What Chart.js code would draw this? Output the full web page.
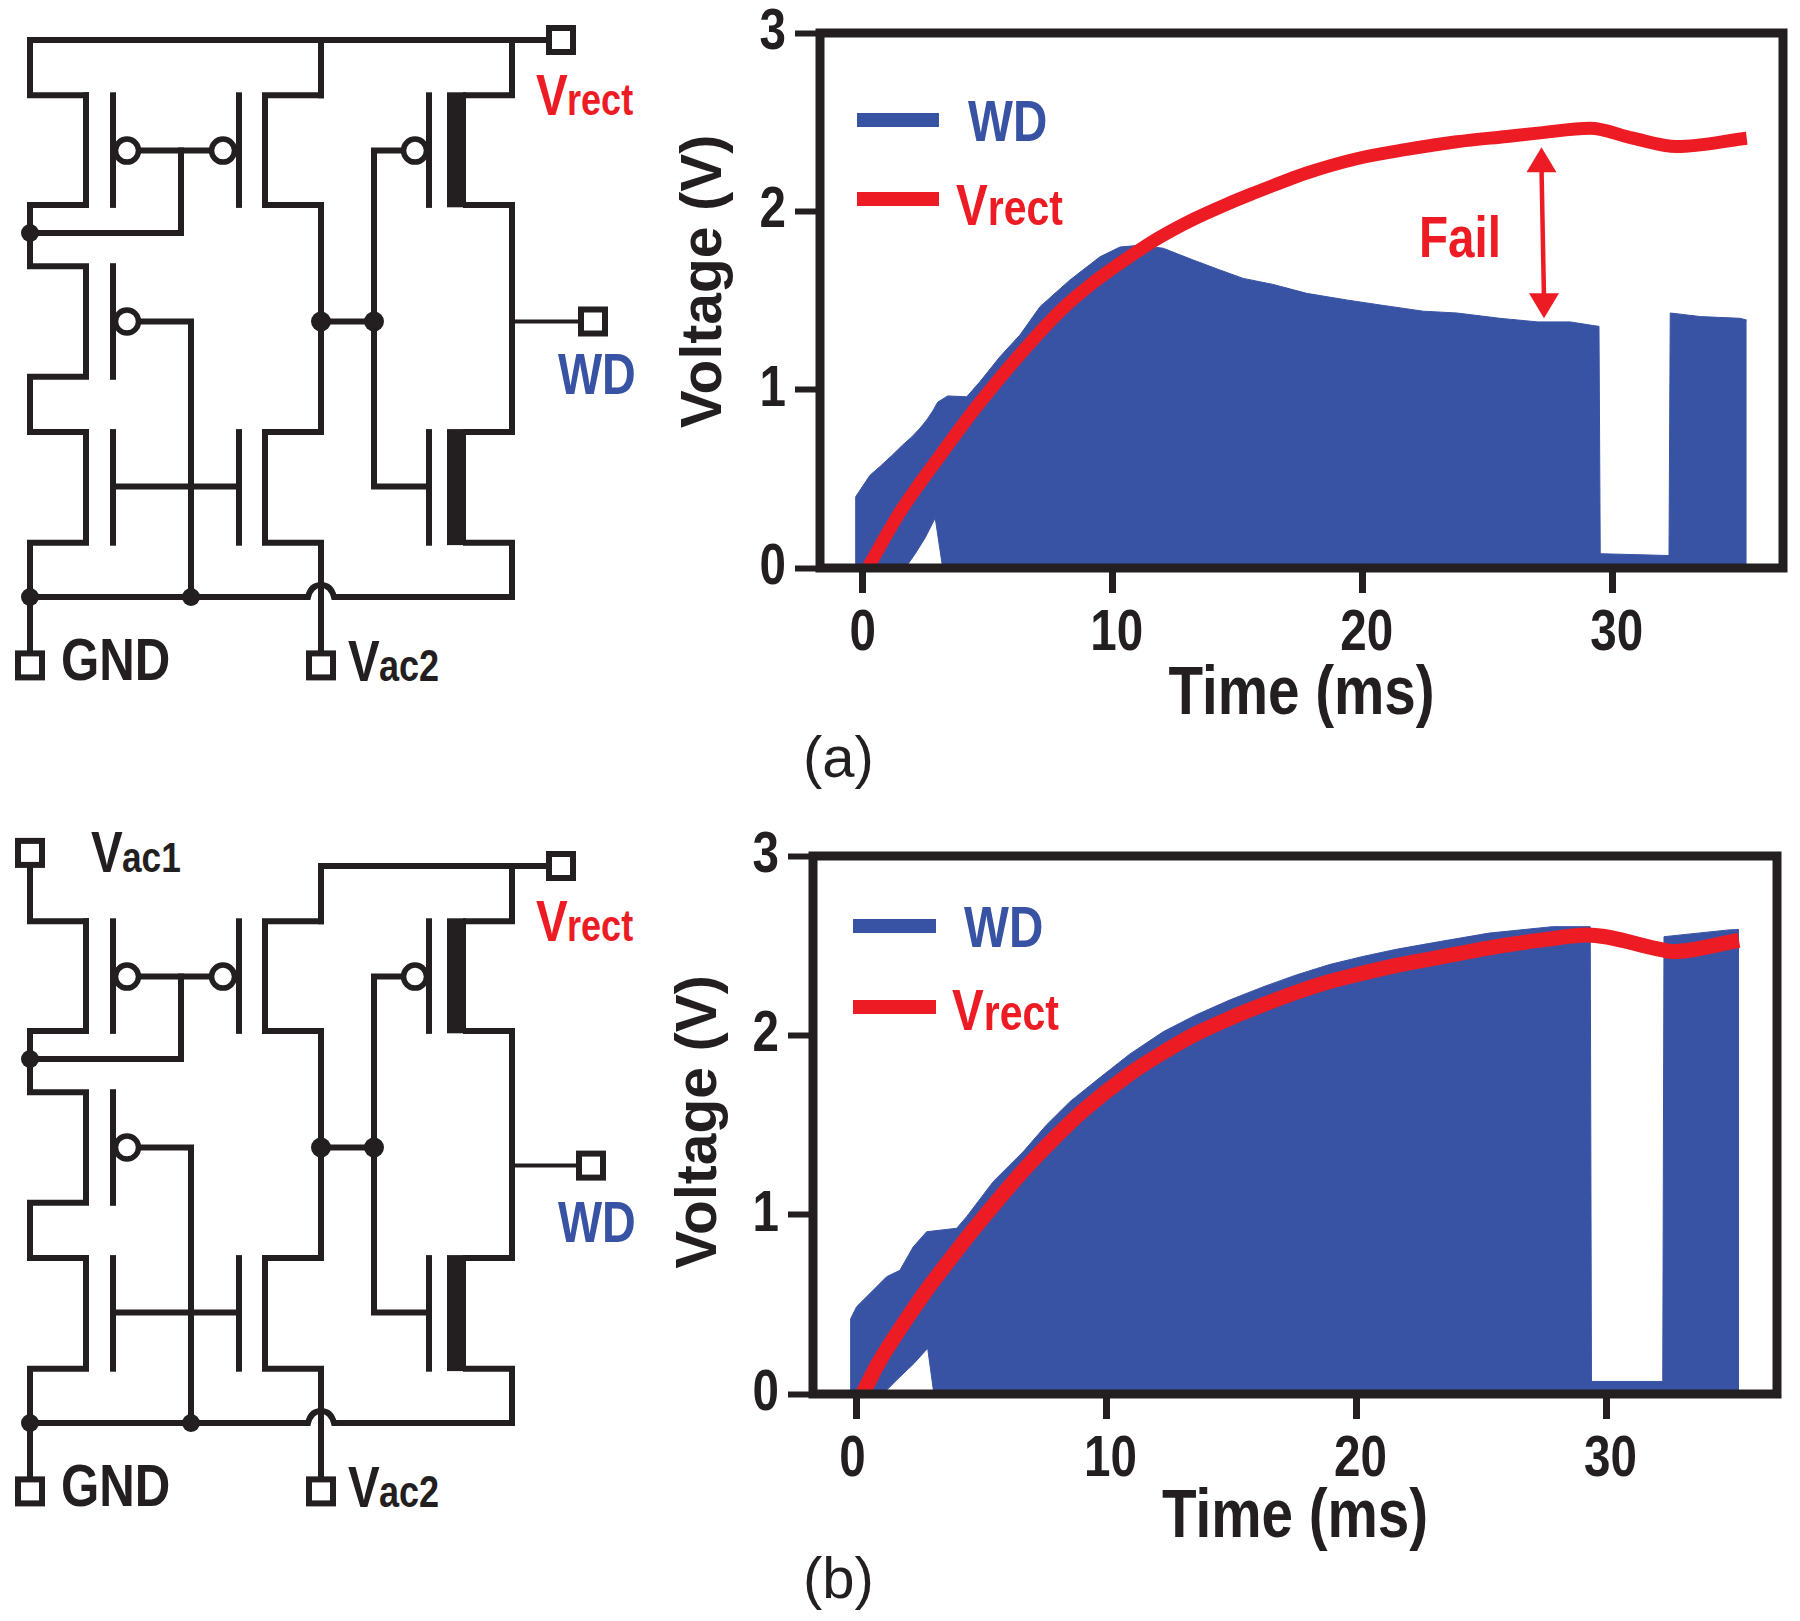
<!DOCTYPE html>
<html><head><meta charset="utf-8">
<script src="https://cdn.jsdelivr.net/npm/chart.js@4/dist/chart.umd.min.js"></script>
<style>
html,body{margin:0;padding:0;background:#fff;width:1800px;height:1621px;overflow:hidden}
canvas,svg{position:absolute}
#wa{position:absolute;left:660px;top:-30px;width:1140px;height:820px}
#wb{position:absolute;left:660px;top:790px;width:1140px;height:831px}
</style></head><body>
<svg id="sch" width="1800" height="1621" style="left:0;top:0"></svg>
<div id="wa"><canvas id="ca"></canvas></div>
<div id="wb"><canvas id="cb"></canvas></div>
<script>
const xTickValues=[0,10,20,30];
const yTickValues=[0,1,2,3];
const seriesNames=['WD','Vrect'];
// panel (a)
const wdTimeA=[-0.3,-0.28,0.29,0.7,1.16,1.6,1.96,2.3,2.56,2.8,3.0,3.4,4.16,4.69,5.49,6.29,7.09,8.29,9.49,10.29,11.09,12.02,13.22,14.29,15.22,16.42,17.76,19.36,20.69,22.42,23.76,25.49,27,28.3,29.2,29.45,29.5,32.25,32.3,33.5,35.1,35.36];
const wdUpperA=[0,0.40,0.52,0.57,0.63,0.69,0.735,0.785,0.83,0.88,0.93,0.965,0.96,1.045,1.185,1.307,1.465,1.615,1.745,1.80,1.81,1.793,1.727,1.671,1.624,1.59,1.54,1.503,1.475,1.44,1.43,1.40,1.38,1.38,1.36,1.355,0.08,0.07,1.43,1.41,1.40,1.39];
const wdLowTimeA=[-0.3,1.7,2.1,2.5,2.9,3.2,35.36];
const wdLowerA=[0,0,0.08,0.17,0.28,0,0];
const vrectTimeA=[0.2,1.5,3.2,4.42,5.22,6.56,7.89,9.22,10.56,11.89,13.22,14.56,15.6,16.42,17.76,19.76,21.76,23.76,25.76,27.09,29.09,30.8,32.56,35.36];
const vrectA=[0,0.315,0.65,0.88,1.02,1.24,1.44,1.60,1.735,1.855,1.955,2.04,2.10,2.145,2.215,2.295,2.347,2.39,2.42,2.44,2.466,2.41,2.363,2.41];
const failArrowTime=[27.15,27.25];
const failArrowVolt=[2.36,1.40];
// panel (b)
const wdTimeB=[-0.25,-0.23,0.01,0.68,1.21,1.74,2.27,2.81,4.01,4.41,5.47,6.67,7.6,8.54,9.7,10.93,12.27,13.6,14.93,16.26,17.6,18.93,20.26,21.6,22.93,25.3,27.84,29.35,29.4,32.25,32.3,34.9,35.3];
const wdUpperB=[0,0.42,0.487,0.58,0.654,0.69,0.82,0.905,0.924,0.989,1.184,1.351,1.50,1.63,1.76,1.895,2.02,2.115,2.197,2.27,2.337,2.395,2.44,2.48,2.513,2.57,2.606,2.606,0.07,0.07,2.55,2.588,2.59];
const wdLowTimeB=[-0.25,1.05,1.7,2.3,2.85,3.1,35.3];
const wdLowerB=[0,0,0.09,0.17,0.255,0,0];
const vrectTimeB=[0.25,0.87,2.07,2.81,3.74,4.67,5.74,6.8,7.87,9.07,10.93,12.27,13.6,14.93,16.26,17.6,18.93,20.26,21.6,22.93,25.6,27.6,29.2,32.25,32.65,35.3];
const vrectB=[0,0.17,0.431,0.58,0.75,0.915,1.095,1.265,1.42,1.58,1.785,1.905,2.01,2.095,2.17,2.24,2.30,2.347,2.39,2.425,2.495,2.535,2.56,2.476,2.467,2.53];

const INK='#231f20',BLUE='#3953a4',RED='#ed1c24';
const SANS='"Liberation Sans",Arial,sans-serif';
const CONDENSE=0.82;
const zip=(xs,ys)=>xs.map((x,i)=>({x,y:ys[i]}));

const panelPlugin={
  id:'panel',
  beforeDraw(c){
    const s=c.scales.y,k=c.options.plugins.panel.titleShift;
    if(!s._patched){
      s._patched=true;
      const d=s.drawTitle;
      s.drawTitle=function(){const b=this.bottom;this.bottom-=k*2;d.call(this);this.bottom=b;};
    }
  },
  afterDatasetsDraw(c){
    const o=c.options.plugins.panel,a=c.chartArea,g=c.ctx;
    g.save();
    g.lineJoin='miter';g.strokeStyle=INK;g.lineWidth=9;
    g.strokeRect(a.left,a.top,a.right-a.left,a.bottom-a.top);
    const L=o.legend;
    g.lineCap='butt';
    g.lineWidth=14;g.strokeStyle=BLUE;g.beginPath();g.moveTo(L.x0,L.y1);g.lineTo(L.x1,L.y1);g.stroke();
    g.strokeStyle=RED;g.beginPath();g.moveTo(L.x0,L.y2);g.lineTo(L.x1,L.y2);g.stroke();
    g.textBaseline='alphabetic';g.textAlign='left';
    g.fillStyle=BLUE;g.font='bold 58px '+SANS;g.fillText(seriesNames[0],L.tx1,L.b1);
    g.fillStyle=RED;g.font='bold 58px '+SANS;g.fillText('V',L.tx2,L.b2);
    const w=g.measureText('V').width*CONDENSE;
    g.font='bold 50px '+SANS;g.fillText('rect',L.tx2+w,L.b2);
    if(o.fail){
      const X=c.scales.x,Y=c.scales.y;
      const x1=X.getPixelForValue(failArrowTime[0]),y1=Y.getPixelForValue(failArrowVolt[0]);
      const x2=X.getPixelForValue(failArrowTime[1]),y2=Y.getPixelForValue(failArrowVolt[1]);
      g.strokeStyle=RED;g.fillStyle=RED;g.lineWidth=4.5;
      g.beginPath();g.moveTo(x1,y1+20);g.lineTo(x2,y2-20);g.stroke();
      g.beginPath();g.moveTo(x1,y1);g.lineTo(x1+15,y1+25);g.lineTo(x1-15,y1+25);g.closePath();g.fill();
      g.beginPath();g.moveTo(x2,y2);g.lineTo(x2+15,y2-25);g.lineTo(x2-15,y2-25);g.closePath();g.fill();
      g.font='bold 58px '+SANS;g.fillText('Fail',o.fail.x,o.fail.y);
    }
    g.restore();
  }
};

function condenseText(ctx,zeroShift){
  const orig=ctx.fillText.bind(ctx);
  ctx.fillText=function(t,x,y,m){
    if(t==='Voltage (V)'){orig(t,x,y);return;}
    const dx=(t==='0'&&ctx.textAlign==='center')?zeroShift:0;
    ctx.save();ctx.translate(x+dx,y);ctx.scale(CONDENSE,1);orig(t,0,0);ctx.restore();
  };
}

function makeChart(id,w,h,cfg){
  const cv=document.getElementById(id);
  cv.width=w;cv.height=h;cv.style.width=w+'px';cv.style.height=h+'px';
  condenseText(cv.getContext('2d'),cfg.zeroShift);
  return new Chart(cv,{
    type:'line',
    data:{datasets:[
      {label:seriesNames[1],data:zip(cfg.vt,cfg.v),borderColor:RED,backgroundColor:RED,borderWidth:cfg.vw,pointRadius:0,fill:false,cubicInterpolationMode:'monotone',borderCapStyle:'butt'},
      {label:seriesNames[0],data:zip(cfg.ut,cfg.u),borderColor:BLUE,backgroundColor:BLUE,borderWidth:1,pointRadius:0,fill:'+1',tension:0},
      {label:seriesNames[0]+' lower',data:zip(cfg.lt,cfg.l),borderColor:BLUE,backgroundColor:BLUE,borderWidth:1,pointRadius:0,fill:false,tension:0}
    ]},
    options:{
      responsive:false,animation:false,devicePixelRatio:1,
      layout:{autoPadding:false,padding:{top:cfg.top,right:cfg.right,left:0,bottom:0}},
      plugins:{legend:{display:false},tooltip:{enabled:false},panel:{titleShift:cfg.titleShift,legend:cfg.legend,fail:cfg.fail}},
      scales:{
        x:{type:'linear',min:cfg.xmin,max:cfg.xmax,
          afterBuildTicks:s=>{s.ticks=xTickValues.map(value=>({value}));},
          afterFit:s=>{s.height=cfg.xh;},
          border:{display:false},
          grid:{display:true,drawOnChartArea:false,drawTicks:true,tickLength:25,tickWidth:7,tickColor:INK},
          ticks:{color:INK,padding:6,labelOffset:4,maxRotation:0,autoSkip:false,font:{family:SANS,weight:'bold',size:58}},
          title:{display:true,text:'Time (ms)',color:INK,font:{family:SANS,weight:'bold',size:69},padding:{top:0,bottom:cfg.xpad}}
        },
        y:{type:'linear',min:0,max:3,
          afterBuildTicks:s=>{s.ticks=yTickValues.map(value=>({value}));},
          afterFit:s=>{s.width=cfg.yw;},
          border:{display:false},
          grid:{display:true,drawOnChartArea:false,drawTicks:true,tickLength:25,tickWidth:6,tickColor:INK},
          ticks:{color:INK,padding:9,font:{family:SANS,weight:'bold',size:58}},
          title:{display:true,text:'Voltage (V)',color:INK,font:{family:SANS,weight:'bold',size:57},padding:{top:cfg.ypad,bottom:0}}
        }
      }
    },
    plugins:[panelPlugin]
  });
}
makeChart('ca',1140,820,{vt:vrectTimeA,v:vrectA,ut:wdTimeA,u:wdUpperA,lt:wdLowTimeA,l:wdLowerA,vw:13,zeroShift:-4,
  top:63,right:17,xmin:-1.708,xmax:36.81,xh:222,yw:160,xpad:54,ypad:11,titleShift:19,
  legend:{x0:197,x1:279,y1:150,y2:229,tx1:308,b1:171,tx2:296,b2:255},
  fail:{x:759,y:287}});
makeChart('cb',1140,831,{vt:vrectTimeB,v:vrectB,ut:wdTimeB,u:wdUpperB,lt:wdLowTimeB,l:wdLowerB,vw:15,zeroShift:-8,
  top:66,right:23,xmin:-1.736,xmax:36.82,xh:227,yw:153,xpad:62,ypad:6,titleShift:3,
  legend:{x0:193,x1:276,y1:136,y2:217,tx1:304,b1:157,tx2:292,b2:240},
  fail:null});

// schematic
function schematic(variantB){
  const dy=variantB?826:0;
  const Y=v=>+(v+(v-40)*0.0054+dy).toFixed(1);
  const SW=6;
  const p=(d,w)=>`<path d="${d}" fill="none" stroke="${INK}" stroke-width="${w||SW}" stroke-linejoin="miter" stroke-linecap="square"/>`;
  const box=(x,y)=>`<rect x="${x-12}" y="${y-12}" width="24" height="24" fill="#fff" stroke="${INK}" stroke-width="6"/>`;
  const dot=(x,y,r)=>`<circle cx="${x}" cy="${y}" r="${r||9.5}" fill="${INK}"/>`;
  const bub=(x,y)=>`<circle cx="${x}" cy="${y}" r="11.5" fill="#fff" stroke="${INK}" stroke-width="5.5"/>`;
  const txt=(x,y,s,size,col)=>`<text transform="translate(${x},${y}) scale(${CONDENSE},1)" font-family='${SANS}' font-weight="bold" font-size="${size}" fill="${col}">${s}</text>`;
  let o='';
  if(variantB){
    o+=p(`M30 ${Y(27)} V${Y(95)} H86`)+p(`M321 ${Y(95)} V${Y(40)} H545`);
  }else{
    o+=p(`M86 ${Y(95)} H30 V${Y(40)} H545`)+p(`M321 ${Y(40)} V${Y(95)}`);
  }
  o+=p(`M86 ${Y(95)} V${Y(204)} H30 V${Y(265)} H86 V${Y(375)} H30 V${Y(430)} H86 V${Y(540)} H30 V${Y(650)}`);
  o+=p(`M321 ${Y(95)} H265 V${Y(204)} H321 V${Y(430)} H265 V${Y(540)} H321 V${Y(650)}`);
  [[113,95,204],[113,265,375],[113,430,540],[239,95,204],[239,430,540],[429,95,204],[429,430,540]].forEach(g=>{o+=p(`M${g[0]} ${Y(g[1])} V${Y(g[2])}`,6);});
  o+=p(`M140 ${Y(150)} H210`)+p(`M181 ${Y(150)} V${Y(232)} H30`);
  o+=p(`M140 ${Y(320)} H191 V${Y(594)}`);
  o+=p(`M116 ${Y(484)} H237`);
  o+=p(`M30 ${Y(594)} H308 Q311 ${Y(582)} 321 ${Y(582)} Q331 ${Y(582)} 334 ${Y(594)} H512 V${Y(540)} H466`);
  o+=p(`M512 ${Y(40)} V${Y(95)} H466`)+p(`M466 ${Y(204)} H512 V${Y(430)} H466`);
  o+=`<rect x="447" y="${Y(92)}" width="19" height="115" fill="${INK}"/><rect x="447" y="${Y(427)}" width="19" height="116" fill="${INK}"/>`;
  o+=p(`M402 ${Y(150)} H374 V${Y(484)} H427`);
  o+=p(`M321 ${Y(320)} H374`);
  const wdShift=variantB?18:0;
  o+=p(`M512 ${Y(320+wdShift)} H580`,4);
  o+=bub(127,Y(150))+bub(223,Y(150))+bub(127,Y(320))+bub(415,Y(150));
  o+=dot(30,Y(232),9)+dot(30,Y(594),9)+dot(191,Y(594),9)+dot(321,Y(320),10)+dot(374,Y(320),10);
  if(variantB)o+=box(30,Y(27));
  o+=box(561,Y(40))+box(593-(variantB?2:0),Y(320+wdShift))+box(30,Y(662))+box(321,Y(662));
  o+=txt(536,Y(115),'V',58,RED)+txt(567,Y(115),'rect',44,RED);
  o+=txt(558,Y(392)+(variantB?22:0),'WD',57,BLUE);
  o+=txt(61,Y(677),'GND',60,INK);
  o+=txt(348,Y(678),'V',58,INK)+txt(379,Y(678),'ac2',44,INK);
  if(variantB){o+=txt(91,872,'V',58,INK)+txt(122,872,'ac1',43,INK);}
  return o;
}
document.getElementById('sch').innerHTML=schematic(false)+schematic(true)
 +`<text x="803" y="777" font-family='${SANS}' font-size="58" fill="${INK}">(a)</text>`
 +`<text x="803" y="1598" font-family='${SANS}' font-size="58" fill="${INK}">(b)</text>`;
</script>
</body></html>
